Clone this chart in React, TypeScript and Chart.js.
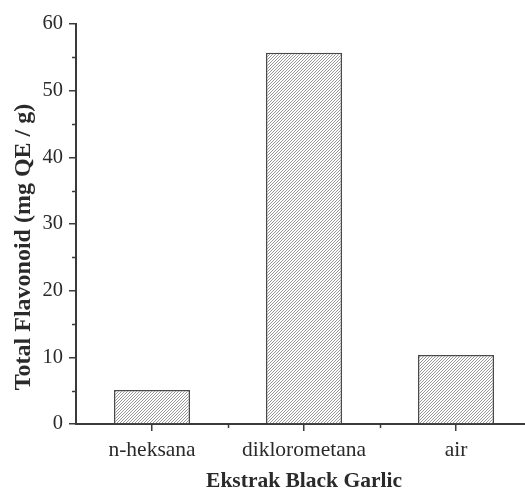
import React, { useEffect, useRef } from 'react';
import { Chart, registerables } from 'chart.js';

Chart.register(...registerables);

// ---- data ----
const categories = ['n-heksana', 'diklorometana', 'air'];
const flavonoidValues = [5.1, 55.7, 10.35];
const yMin = 0;
const yMax = 60;
const yMajorStep = 10;
const yMinorStep = 5;
const xTitle = 'Ekstrak Black Garlic';
const yTitle = 'Total Flavonoid (mg QE / g)';

// ---- styles ----
const AXIS = '#3a3a3a';
const TEXT = '#2a2a2a';
const FONT = '"Liberation Serif", "Times New Roman", serif';

function makeHatch(): CanvasPattern | string {
  const s = 3;
  const c = document.createElement('canvas');
  c.width = s;
  c.height = s;
  const g = c.getContext('2d');
  if (!g) return '#bbb';
  g.fillStyle = '#ffffff';
  g.fillRect(0, 0, s, s);
  g.strokeStyle = '#8c8c8c';
  g.lineWidth = 0.9;
  g.beginPath();
  g.moveTo(0, s);
  g.lineTo(s, 0);
  g.moveTo(-1, 1);
  g.lineTo(1, -1);
  g.moveTo(s - 1, s + 1);
  g.lineTo(s + 1, s - 1);
  g.stroke();
  const p = g.createPattern(c, 'repeat');
  return p || '#bbb';
}

const extrasPlugin = {
  id: 'extras',
  afterDraw(chart: any) {
    const { ctx, chartArea } = chart;
    const xs = chart.scales.x;
    const ys = chart.scales.y;
    ctx.save();
    ctx.strokeStyle = AXIS;
    ctx.lineWidth = 1.5;
    // minor y ticks
    for (let v = yMin + yMinorStep; v < yMax; v += yMajorStep) {
      const py = Math.round(ys.getPixelForValue(v)) + 0.5;
      ctx.beginPath();
      ctx.moveTo(chartArea.left - 4, py);
      ctx.lineTo(chartArea.left, py);
      ctx.stroke();
    }
    // minor x ticks between categories
    for (let i = 0; i < categories.length - 1; i++) {
      const px = Math.round((xs.getPixelForValue(i) + xs.getPixelForValue(i + 1)) / 2) + 0.5;
      ctx.beginPath();
      ctx.moveTo(px, chartArea.bottom);
      ctx.lineTo(px, chartArea.bottom + 4);
      ctx.stroke();
    }
    // y axis title
    const cy = (chartArea.top + chartArea.bottom) / 2 + 23;
    ctx.translate(24, cy);
    ctx.rotate(-Math.PI / 2);
    ctx.font = `bold 24px ${FONT}`;
    ctx.fillStyle = TEXT;
    ctx.textAlign = 'center';
    ctx.textBaseline = 'middle';
    ctx.fillText(yTitle, 0, 0);
    ctx.restore();
  },
};

export default function App() {
  const ref = useRef<HTMLCanvasElement | null>(null);

  useEffect(() => {
    if (!ref.current) return;
    const hatch = makeHatch();
    const chart = new Chart(ref.current, {
      type: 'bar',
      data: {
        labels: categories,
        datasets: [
          {
            data: flavonoidValues,
            backgroundColor: hatch as any,
            borderColor: '#4a4a4a',
            borderWidth: 1.5,
            categoryPercentage: 1,
            barPercentage: 0.5,
          },
        ],
      },
      options: {
        animation: false,
        responsive: true,
        maintainAspectRatio: false,
        layout: { padding: { left: 0, top: 24, right: 13, bottom: 0 } },
        plugins: {
          legend: { display: false },
          tooltip: { enabled: false },
        },
        scales: {
          x: {
            offset: true,
            grid: {
              offset: false,
              drawOnChartArea: false,
              drawTicks: true,
              tickLength: 7,
              color: AXIS,
              lineWidth: 1.5,
            },
            border: { display: true, color: AXIS, width: 2 },
            ticks: {
              color: TEXT,
              padding: 6,
              font: { family: FONT, size: 21.5 },
              maxRotation: 0,
            },
            title: {
              display: true,
              text: xTitle,
              color: TEXT,
              font: { family: FONT, size: 21.5, weight: 'bold' },
              padding: { top: 0, bottom: 2 },
            },
            afterFit: (scale: any) => {
              scale.height = 72;
            },
          },
          y: {
            min: yMin,
            max: yMax,
            grid: {
              drawOnChartArea: false,
              drawTicks: true,
              tickLength: 7,
              color: AXIS,
              lineWidth: 1.5,
            },
            border: { display: true, color: AXIS, width: 2 },
            ticks: {
              stepSize: yMajorStep,
              color: TEXT,
              padding: 6,
              font: { family: FONT, size: 20.5 },
            },
            afterFit: (scale: any) => {
              scale.width = 76;
            },
          },
        },
      },
      plugins: [extrasPlugin],
    });
    return () => chart.destroy();
  }, []);

  return (
    <div
      style={{
        position: 'fixed',
        left: 0,
        top: 0,
        width: 525,
        height: 496,
        overflow: 'hidden',
        background: '#fff',
      }}
    >
      <div style={{ position: 'relative', width: 545, height: 496 }}>
        <canvas ref={ref} />
      </div>
    </div>
  );
}
